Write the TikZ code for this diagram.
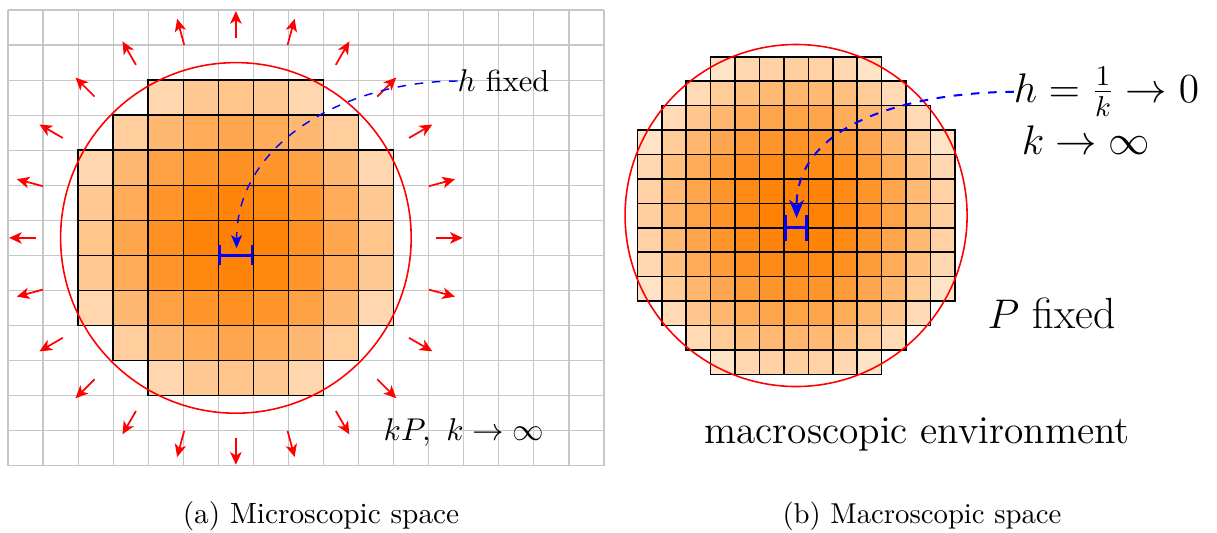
\documentclass[tikz,border=0pt]{standalone}
\usetikzlibrary{arrows.meta}
\tikzset{
  px/.style={x=0.34795pt,y=-0.34795pt},
  gridline/.style={draw=black!22, line width=0.4pt},
  cell/.style={draw=black, line width=0.55pt},
  ring/.style={draw=red, line width=0.55pt},
  radial/.style={draw=red, line width=0.6pt, -{Stealth[length=4.4pt,width=4pt,inset=1.2pt]}},
  hbarL/.style={draw=blue, line width=0.8pt, {Bar[width=7pt]}-{Bar[width=7pt]}},
  hbarR/.style={draw=blue, line width=1pt, {Bar[width=9pt]}-{Bar[width=9pt]}},
  pointerL/.style={draw=blue, dashed, line width=0.5pt, -{Stealth[length=4.5pt,width=3.8pt,inset=1.2pt]}},
  pointerR/.style={draw=blue, dashed, line width=0.7pt, -{Stealth[length=6.3pt,width=5.2pt,inset=1.8pt]}},
  lab/.style={inner sep=0pt, outer sep=0pt}
}
\begin{document}
\begin{tikzpicture}[px]
\useasboundingbox (0,0) rectangle (1217,532);
% ---------- left panel ----------
\begin{scope}[shift={(8,10)}, scale=35.06]
  \foreach \x in {0,...,17}{\draw[gridline] (\x,0) -- (\x,13);}
  \foreach \y in {0,...,13}{\draw[gridline] (0,\y) -- (17,\y);}
  \foreach \i in {0,...,16}{
    \foreach \j in {0,...,12}{
      \pgfmathtruncatemacro{\dd}{(\i-6)*(\i-6)+(\j-6)*(\j-6)}
      \ifnum\dd<25
        \pgfmathsetmacro{\pp}{100-85*\dd/25}
        \draw[cell, fill=orange!\pp!white] (\i,\j) rectangle ++(1,1);
      \fi
    }
  }
  \draw[ring] (6.5,6.5) circle [radius=5];
  \foreach \a in {0,15,...,345}{
    \draw[radial] ([shift={(\a:5.7)}]6.5,6.5) -- ([shift={(\a:6.47)}]6.5,6.5);
  }
  \draw[hbarL] (6,7) -- (7,7);
  \coordinate (tipL) at (6.52,6.79);
\end{scope}
% ---------- right panel ----------
\begin{scope}[shift={(637.3,56.7)}, scale=24.43]
  \foreach \i in {0,...,12}{
    \foreach \j in {0,...,12}{
      \pgfmathtruncatemacro{\dd}{(\i-6)*(\i-6)+(\j-6)*(\j-6)}
      \ifnum\dd<49
        \pgfmathsetmacro{\pp}{100-85*\dd/49}
        \draw[cell, fill=orange!\pp!white] (\i,\j) rectangle ++(1,1);
      \fi
    }
  }
  \draw[ring] (6.5,6.5) circle [radius=7];
  \draw[hbarR] (6,7) -- (7,7);
  \coordinate (tipR) at (6.52,6.6);
\end{scope}
% ---------- labels ----------
\node[lab, font=\fontsize{10.6}{12}\selectfont] (hfix) at (503.5,81) {$h$ fixed};
\node[lab, anchor=base, font=\fontsize{11}{13}\selectfont] (kP) at (464,440) {$kP,\ k\to\infty$};
\node[lab, anchor=base, font=\fontsize{14.7}{17}\selectfont] (hk) at (1106.5,102) {$h=\frac{1}{k}\to0$};
\node[lab, anchor=base, font=\fontsize{14.7}{17}\selectfont] (kinf) at (1086,154) {$k\to\infty$};
\node[lab, anchor=base, font=\fontsize{15.2}{18}\selectfont] (Pfix) at (1051.7,328.3) {$P$ fixed};
\node[lab, anchor=base, font=\fontsize{13.7}{16}\selectfont] (macro) at (917,443.3) {macroscopic environment};
\node[lab, anchor=base, font=\fontsize{10.2}{12}\selectfont] (capa) at (321,523) {(a) Microscopic space};
\node[lab, anchor=base, font=\fontsize{10}{12}\selectfont] (capb) at (922,523) {(b) Macroscopic space};
% ---------- pointers ----------
\draw[pointerL] (hfix.west) .. controls (350,81) and (236.7,140) .. (tipL);
\draw[pointerR] (hk.west) .. controls (911,92.7) and (796.7,122.3) .. (tipR);
\end{tikzpicture}
\end{document}
